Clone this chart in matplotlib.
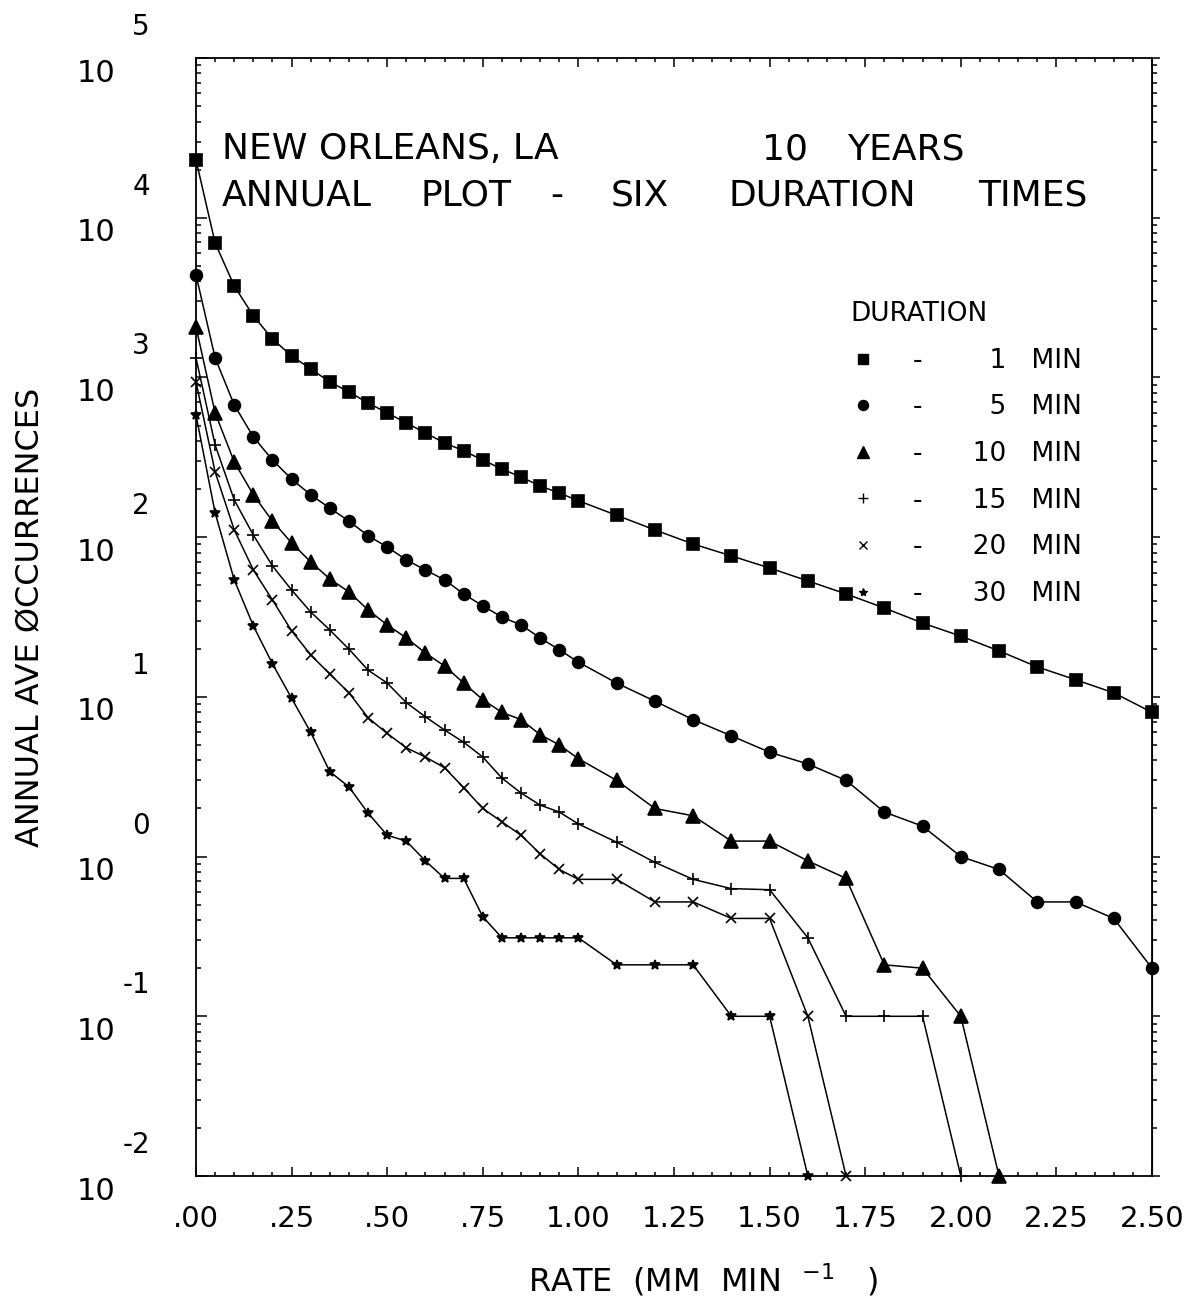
import numpy as np
import matplotlib.pyplot as plt
import matplotlib.transforms as mtransforms
from matplotlib.lines import Line2D
from matplotlib.ticker import LogLocator, MultipleLocator, NullFormatter

plt.rcParams['font.family'] = ['DejaVu Sans']

# rainfall rate (mm/min) at which occurrences were counted
rate = [0.00, 0.05, 0.10, 0.15, 0.20, 0.25, 0.30, 0.35, 0.40, 0.45, 0.50,
        0.55, 0.60, 0.65, 0.70, 0.75, 0.80, 0.85, 0.90, 0.95, 1.00,
        1.1, 1.2, 1.3, 1.4, 1.5, 1.6, 1.7, 1.8, 1.9, 2.0, 2.1, 2.2, 2.3, 2.4, 2.5]

# annual average occurrences per duration (0 = none, drawn on the bottom axis)
dur_1 = [23000, 6950, 3740, 2430, 1740, 1364, 1130, 937, 811, 692, 600,
         519, 449, 389, 347, 304, 267, 238, 209, 189, 169,
         137, 111, 90.6, 76.3, 64.1, 53.2, 44.1, 36.0, 29.0, 24.0, 19.4, 15.4, 12.8, 10.6, 8.0]
dur_5 = [4385, 1325, 673, 424, 304, 231, 184, 152, 126, 102, 86.8,
         72.0, 62.3, 54.0, 44.1, 37.1, 31.6, 28.2, 23.4, 19.7, 16.5,
         12.2, 9.4, 7.2, 5.7, 4.5, 3.8, 3.0, 1.9, 1.55, 1.0, 0.83, 0.52, 0.52, 0.41, 0.2]
dur_10 = [2070, 600, 296, 184, 126, 92, 70, 54.7, 45.4, 35.0, 28.2,
          23.4, 18.8, 15.6, 12.2, 9.6, 8.0, 7.2, 5.8, 5.0, 4.1,
          3.0, 2.0, 1.8, 1.25, 1.25, 0.94, 0.73, 0.21, 0.2, 0.1, 0]
dur_15 = [1325, 378, 171, 103, 66, 46.7, 34.0, 26.2, 19.9, 14.7, 12.2,
          9.2, 7.5, 6.2, 5.2, 4.2, 3.1, 2.5, 2.1, 1.9, 1.6,
          1.23, 0.92, 0.72, 0.63, 0.62, 0.31, 0.1, 0.1, 0.1, 0]
dur_20 = [937, 256, 111, 62.3, 40.4, 25.9, 18.3, 13.9, 10.6, 7.4, 5.9,
          4.8, 4.2, 3.6, 2.7, 2.0, 1.65, 1.36, 1.04, 0.83, 0.72,
          0.72, 0.52, 0.52, 0.41, 0.41, 0.1, 0]
dur_30 = [582, 142, 54.0, 27.8, 16.1, 9.8, 6.0, 3.4, 2.73, 1.87, 1.36,
          1.25, 0.94, 0.73, 0.73, 0.42, 0.31, 0.31, 0.31, 0.31, 0.31,
          0.21, 0.21, 0.21, 0.1, 0.1, 0]

durations = [1, 5, 10, 15, 20, 30]
series = [dur_1, dur_5, dur_10, dur_15, dur_20, dur_30]
markers = ['s', 'o', '^', '+', 'x', '*']
msizes = [8.5, 8.5, 10, 8, 6.5, 7]

xticks = [0.0, 0.25, 0.5, 0.75, 1.0, 1.25, 1.5, 1.75, 2.0, 2.25, 2.5]
xtick_labels = ['.00', '.25', '.50', '.75', '1.00', '1.25', '1.50',
                '1.75', '2.00', '2.25', '2.50']
decades = [-2, -1, 0, 1, 2, 3, 4, 5]

W, H = 1202, 1313
fig = plt.figure(figsize=(W / 100, H / 100), dpi=100)
# axes box in pixels: left 196, right 1152, top 58, bottom 1176
ax = fig.add_axes([196 / W, 1 - 1176 / H, 956 / W, 1118 / H])

floor = 1e-2
for vals, mk, ms in zip(series, markers, msizes):
    y = np.maximum(np.array(vals, dtype=float), floor)
    ax.plot(rate[:len(vals)], y, color='black', lw=1.1, marker=mk, ms=ms,
            mew=1.2, mfc='black', mec='black', clip_on=False)

ax.set_xlim(0, 2.5)
ax.set_yscale('log')
ax.set_ylim(1e-2, 1e5)

ax.set_xticks(xticks)
ax.set_xticklabels(xtick_labels, fontsize=21)
ax.xaxis.set_minor_locator(MultipleLocator(0.05))
ax.tick_params(axis='x', which='both', direction='in', top=True, bottom=True, width=1.1)
ax.tick_params(axis='x', which='major', length=6.5, pad=21)
ax.tick_params(axis='x', which='minor', length=3)

ax.yaxis.set_major_locator(LogLocator(base=10, numticks=20))
ax.yaxis.set_minor_locator(LogLocator(base=10, subs=np.arange(2, 10), numticks=20))
ax.yaxis.set_major_formatter(NullFormatter())
ax.yaxis.set_minor_formatter(NullFormatter())
ax.tick_params(axis='y', which='both', direction='in', left=True, right=False, width=1.1)
ax.tick_params(axis='y', which='major', length=8)
ax.tick_params(axis='y', which='minor', length=3.6)

# right side: ticks point outward
sec = ax.secondary_yaxis('right')
sec.yaxis.set_major_locator(LogLocator(base=10, numticks=20))
sec.yaxis.set_minor_locator(LogLocator(base=10, subs=np.arange(2, 10), numticks=20))
sec.yaxis.set_major_formatter(NullFormatter())
sec.yaxis.set_minor_formatter(NullFormatter())
sec.tick_params(which='both', direction='out', width=1.1)
sec.tick_params(which='major', length=6)
sec.tick_params(which='minor', length=3.5)

for sp in ax.spines.values():
    sp.set_linewidth(1.3)

# plotter style "10" with raised exponent
trans = mtransforms.blended_transform_factory(ax.transAxes, ax.transData)
for e in decades:
    ax.annotate('10', xy=(0, 10.0 ** e), xycoords=trans, xytext=(-81, -15),
                textcoords='offset pixels', ha='right', va='center', fontsize=22)
    ax.annotate(str(e), xy=(0, 10.0 ** e), xycoords=trans, xytext=(-46, 31),
                textcoords='offset pixels', ha='right', va='center', fontsize=20)

# title block (word positions in pixels, plotter spacing)
line1 = [(222, 'NEW ORLEANS, LA'), (762, '10'), (847, 'YEARS')]
line2 = [(222, 'ANNUAL'), (421, 'PLOT'), (550, '-'), (611, 'SIX'),
         (728, 'DURATION'), (978, 'TIMES')]
for x, word in line1:
    fig.text(x / W, 1 - 159 / H, word, fontsize=26)
for x, word in line2:
    fig.text(x / W, 1 - 205 / H, word, fontsize=26)

# legend
handles = [Line2D([], [], ls='none', marker=mk, ms=ms * 0.85, mew=1.0,
                  color='black') for mk, ms in zip(markers, msizes)]
labels = ['-' + ' ' * 6 + str(d).rjust(2, '\u2007') + '   MIN' for d in durations]
leg = ax.legend(handles, labels, title='DURATION', loc='upper left',
                bbox_to_anchor=((850 - 196) / 956, (1176 - 301) / 1118),
                frameon=False, fontsize=19, title_fontsize=19,
                handlelength=1.0, handletextpad=1.4, labelspacing=0.78,
                borderpad=0, borderaxespad=0, alignment='left')
leg._legend_box.sep = 15

ax.set_xlabel('RATE  (MM  MIN  $^{-1}$   )', fontsize=23)
ax.xaxis.set_label_coords(0.53, -0.077)
ax.set_ylabel('ANNUAL AVE ØCCURRENCES', fontsize=23, labelpad=104)

fig.savefig('out.png', dpi=100)
